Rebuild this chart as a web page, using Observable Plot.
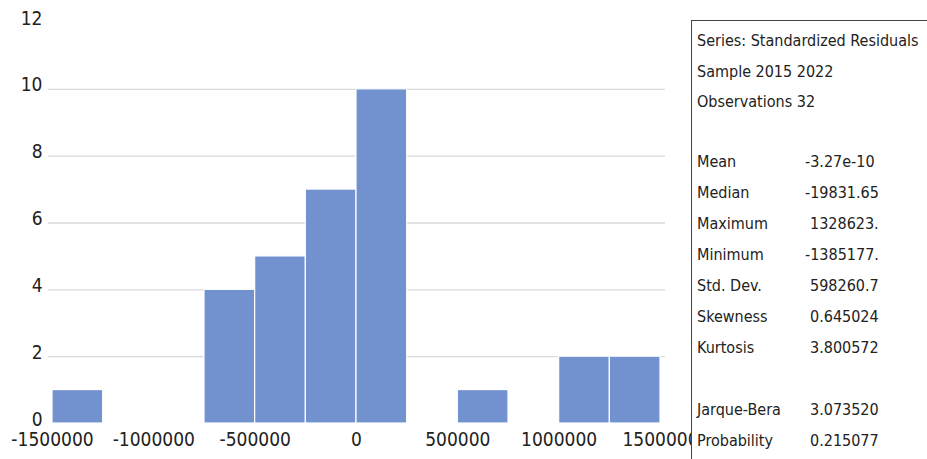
<!DOCTYPE html>
<html><head><meta charset="utf-8">
<script src="https://cdn.jsdelivr.net/npm/d3@7"></script>
<script src="https://cdn.jsdelivr.net/npm/@observablehq/plot@0.6"></script>
<style>
body{margin:0;background:#fff;}
#wrap{position:relative;width:927px;height:459px;overflow:hidden;font-family:"DejaVu Sans Condensed","DejaVu Sans",sans-serif;font-stretch:condensed;}
#stats{position:absolute;left:691px;top:20px;width:240px;height:460px;background:#fff;border:1.5px solid #444;box-sizing:border-box;font-size:16px;color:#222;}
#stats div{position:absolute;white-space:nowrap;}
</style></head>
<body><div id="wrap"><div id="chart"></div><div id="stats"></div></div>
<script>
const binStart = [-1500000,-1250000,-1000000,-750000,-500000,-250000,0,250000,500000,750000,1000000,1250000];
const binWidth = 250000;
const counts = [1,0,0,4,5,7,10,0,1,0,2,2];
const xTicks = [-1500000,-1000000,-500000,0,500000,1000000,1500000];
const yTicks = [0,2,4,6,8,10,12];
const gridTicks = [2,4,6,8,10];
const headerLines = ["Series: Standardized Residuals","Sample 2015 2022","Observations 32"];
const statNames = ["Mean","Median","Maximum","Minimum","Std. Dev.","Skewness","Kurtosis","","Jarque-Bera","Probability"];
const statValues = ["-3.27e-10","-19831.65","1328623.","-1385177.","598260.7","0.645024","3.800572","","3.073520","0.215077"];

const bins = binStart.map((s,i)=>({x1:s,x2:s+binWidth,count:counts[i]})).filter(d=>d.count>0);
const font = "'DejaVu Sans Condensed','DejaVu Sans',sans-serif";

const plot = Plot.plot({
  width:927, height:459,
  marginLeft:52, marginRight:267, marginTop:22, marginBottom:36,
  style:{fontFamily:font,fontSize:"19px",color:"#222",background:"#fff"},
  x:{domain:[-1500000,1500000],label:null},
  y:{domain:[0,12],label:null},
  marks:[
    Plot.ruleY(gridTicks,{stroke:"#d9d9d9",strokeWidth:1.3,x1:-1520000,x2:1525000}),
    Plot.rectY(bins,{x1:"x1",x2:"x2",y:"count",fill:"#7191cf",stroke:"#fff",strokeWidth:1.2}),
    Plot.axisX(xTicks,{tickSize:0,tickPadding:9,tickFormat:d=>String(d),fontSize:19,fill:"#222",label:null}),
    Plot.axisY(yTicks,{tickSize:0,tickPadding:10,tickFormat:d=>String(d),fontSize:19,fill:"#222",dy:-4,label:null})
  ]
});
document.getElementById("chart").appendChild(plot);

const box = document.getElementById("stats");
headerLines.forEach((t,i)=>{
  const d=document.createElement("div");d.textContent=t;d.style.left="5px";d.style.top=(10+i*30.5)+"px";box.appendChild(d);
});
statNames.forEach((t,i)=>{
  if(!t) return;
  const top=(131+i*31)+"px";
  const a=document.createElement("div");a.textContent=t;a.style.left="5px";a.style.top=top;box.appendChild(a);
  const v=statValues[i];
  const b=document.createElement("div");b.textContent=v;b.style.left=(v.startsWith("-")?113:118)+"px";b.style.top=top;box.appendChild(b);
});
</script></body></html>
